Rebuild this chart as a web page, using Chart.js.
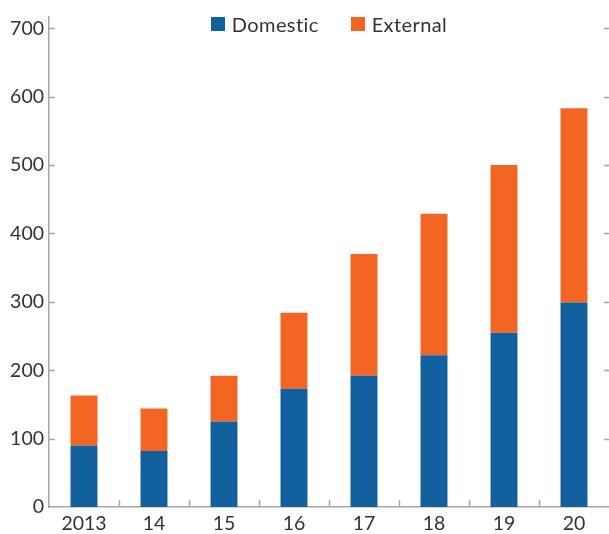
<!DOCTYPE html>
<html>
<head>
<meta charset="utf-8">
<script src="https://cdn.jsdelivr.net/npm/chart.js@4.4.1/dist/chart.umd.min.js"></script>
<style>
  html, body { margin: 0; padding: 0; background: #fff; }
  #wrap { position: relative; width: 609px; height: 534px; }
  #legend { position: absolute; top: 12px; left: 0; width: 609px; display: flex; justify-content: center; padding-left: 49px; box-sizing: border-box;
            font-family: Lato, "Noto Sans", sans-serif; font-size: 20px; letter-spacing: 0.4px; color: #333; }
  .item { display: flex; align-items: center; margin: 0 16px; }
  .sw { width: 14px; height: 14px; margin-right: 7px; }
</style>
</head>
<body>
<div id="wrap">
  <canvas id="c" width="609" height="534"></canvas>
  <div id="legend"></div>
</div>
<script>
const categories = ["2013", "14", "15", "16", "17", "18", "19", "20"];
const domestic = [90, 82, 125, 173, 192, 222, 255, 299];
const external = [73, 62, 67, 111, 178, 207, 245, 284];
const yTicks = [0, 100, 200, 300, 400, 500, 600, 700];
const seriesNames = ["Domestic", "External"];
const colors = ["#13609f", "#f26522"];

const axisColor = "#a6a6a6";
const tickFont = { family: "Lato, 'Noto Sans', sans-serif", size: 19.5 };

const tickPlugin = {
  id: "ticks",
  afterDraw(chart) {
    const { ctx, chartArea, scales } = chart;
    ctx.save();
    ctx.strokeStyle = axisColor;
    ctx.lineWidth = 1.5;
    scales.y.ticks.forEach(t => {
      if (t.value === 0) return;
      const py = Math.round(scales.y.getPixelForValue(t.value)) + 0.5;
      ctx.beginPath();
      ctx.moveTo(chartArea.left, py); ctx.lineTo(chartArea.left + 6, py);
      ctx.moveTo(chartArea.right - 5, py); ctx.lineTo(chartArea.right, py);
      ctx.stroke();
    });
    for (let i = 1; i < categories.length; i++) {
      const px = Math.round((scales.x.getPixelForTick(i - 1) + scales.x.getPixelForTick(i)) / 2) + 0.5;
      ctx.beginPath();
      ctx.moveTo(px, chartArea.bottom); ctx.lineTo(px, chartArea.bottom - 7);
      ctx.stroke();
    }
    ctx.restore();
  }
};

new Chart(document.getElementById("c"), {
  type: "bar",
  data: {
    labels: categories,
    datasets: [
      { label: seriesNames[0], data: domestic, backgroundColor: colors[0], barPercentage: 0.385, categoryPercentage: 1.0 },
      { label: seriesNames[1], data: external, backgroundColor: colors[1], barPercentage: 0.385, categoryPercentage: 1.0 }
    ]
  },
  options: {
    responsive: false,
    animation: false,
    layout: { padding: { top: 15, right: 0, left: 0, bottom: 0 } },
    plugins: { legend: { display: false }, tooltip: { enabled: false } },
    scales: {
      x: {
        stacked: true,
        grid: { display: false, drawTicks: false },
        border: { display: true, color: axisColor, width: 1.5 },
        ticks: { color: "#333", font: tickFont, padding: 5, maxRotation: 0 },
        afterFit(s) { s.height = 27; }
      },
      y: {
        stacked: true,
        min: 0, max: 717,
        grid: { display: false, drawTicks: false },
        border: { display: true, color: axisColor, width: 1.5 },
        ticks: { color: "#333", font: tickFont, padding: 5 },
        afterBuildTicks(s) { s.ticks = yTicks.map(v => ({ value: v })); },
        afterFit(s) { s.width = 49; }
      }
    }
  },
  plugins: [tickPlugin]
});

const leg = document.getElementById("legend");
seriesNames.forEach((n, i) => {
  const d = document.createElement("div");
  d.className = "item";
  d.innerHTML = '<span class="sw" style="background:' + colors[i] + '"></span><span>' + n + '</span>';
  leg.appendChild(d);
});
</script>
</body>
</html>
